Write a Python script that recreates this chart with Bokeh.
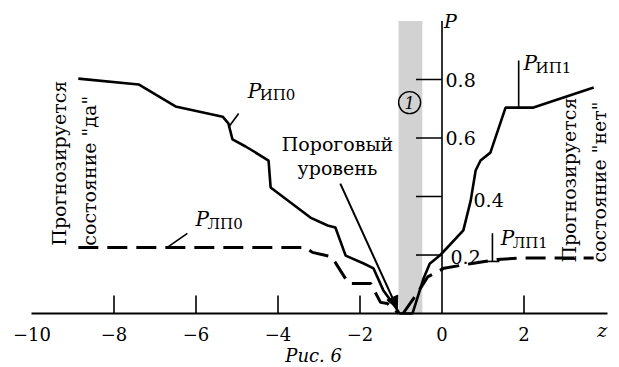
import numpy as np
from bokeh.plotting import figure
from bokeh.models import Range1d, FixedTicker, Arrow, NormalHead
from bokeh.core.properties import value
from bokeh.embed import file_html
from bokeh.resources import INLINE

# ---------------- data ----------------
Z_IP0 = [-8.87, -7.40, -6.50, -5.35, -5.21, -5.11, -4.79, -4.23, -4.18, -3.21, -2.79,
         -2.60, -2.35, -1.91, -1.67, -1.43, -1.13, -1.04]
P_IP0 = [0.803, 0.783, 0.708, 0.673, 0.650, 0.595, 0.571, 0.523, 0.431, 0.328, 0.301,
         0.294, 0.198, 0.171, 0.154, 0.079, 0.021, 0.0]
Z_LP0 = [-8.87, -3.33, -3.16, -2.72, -2.60, -2.28, -1.74, -1.50, -1.33, -1.06]
P_LP0 = [0.226, 0.226, 0.209, 0.195, 0.174, 0.103, 0.103, 0.038, 0.034, 0.0]
Z_IP1 = [-1.04, -0.72, -0.45, -0.30, -0.04, 0.52, 0.70, 0.82, 0.94, 1.18, 1.55, 2.23, 3.70]
P_IP1 = [0.0, 0.0, 0.12, 0.17, 0.20, 0.284, 0.386, 0.489, 0.523, 0.550, 0.704, 0.704, 0.773]
Z_LP1 = [-0.95, -0.60, -0.35, 0.05, 0.77, 1.35, 2.00, 3.70]
P_LP1 = [0.0, 0.07, 0.125, 0.155, 0.172, 0.185, 0.19, 0.19]

XTICKS = [-10, -8, -6, -4, -2, 0, 2]
XTICK_LABELS = ["\u221210", "\u22128", "\u22126", "\u22124", "\u22122", "0", "2"]
YTICKS = [0.2, 0.4, 0.6, 0.8]
YTICK_LABELS = ["0.2", "0.4", "0.6", "0.8"]

BAND_LEFT, BAND_RIGHT, BAND_TOP = -1.06, -0.48, 1.0

# ---------------- layout constants ----------------
X_MIN, X_MAX = -10.768, 4.329
X_AXIS_START, X_AXIS_END = -10.0, 4.04
Y_MIN, Y_MAX = -0.1846, 1.0701
Y_AXIS_TOP = 1.0
YLABEL_DX = [8.5, 31.5, 3.5, 3.5]
YLABEL_DY = [2, 3, 0, 0]
FONT_NAME = "DejaVu Serif"
FONT = value(FONT_NAME)
TXT = dict(text_font=FONT, text_color="black", text_baseline="middle")

p = figure(width=619, height=367, output_backend="svg", toolbar_location=None,
           x_range=Range1d(X_MIN, X_MAX), y_range=Range1d(Y_MIN, Y_MAX),
           y_axis_location=None, min_border=0)
p.outline_line_color = None
p.grid.grid_line_color = None
p.background_fill_color = "white"

xa = p.xaxis[0]
xa.fixed_location = 0
xa.bounds = (X_AXIS_START, X_AXIS_END)
xa.ticker = FixedTicker(ticks=XTICKS)
xa.major_label_overrides = {t: l for t, l in zip(XTICKS, XTICK_LABELS)}
xa.major_tick_line_color = None
xa.minor_tick_line_color = None
xa.axis_line_width = 2
xa.axis_line_color = "black"
xa.major_label_standoff = 7
xa.major_label_text_font = FONT_NAME
xa.major_label_text_font_size = "18px"
xa.major_label_text_color = "black"

p.quad(left=[BAND_LEFT], right=[BAND_RIGHT], bottom=[0], top=[BAND_TOP],
       fill_color="#d2d2d2", line_color=None)

xmarks = [t for t in XTICKS if t not in (XTICKS[0], 0)]
p.ray(x=xmarks, y=[0] * len(xmarks), length=18, length_units="screen",
      angle=np.pi / 2, line_color="black", line_width=1.6)

p.segment(x0=[0], y0=[0], x1=[0], y1=[Y_AXIS_TOP], line_color="black", line_width=1.6)
p.ray(x=[0] * len(YTICKS), y=YTICKS, length=26, length_units="screen",
      angle=np.pi, line_color="black", line_width=1.6)
p.text(x=[0] * len(YTICKS), y=YTICKS, text=YTICK_LABELS, x_offset=YLABEL_DX, y_offset=YLABEL_DY,
       text_font_size="19px", text_align="left", **TXT)
p.text(x=[0], y=[Y_AXIS_TOP], text=["P"], x_offset=2, y_offset=0,
       text_font_size="19px", text_font_style="italic", text_align="left", **TXT)

p.line(Z_IP0, P_IP0, line_color="black", line_width=2.6)
p.line(Z_IP1, P_IP1, line_color="black", line_width=2.6)
p.line(Z_LP0, P_LP0, line_color="black", line_width=3, line_dash="20 9")
p.line(Z_LP1, P_LP1, line_color="black", line_width=3, line_dash="20 9")

p.segment(x0=[-5.21, -6.70, 1.87, 1.23, 1.06], y0=[0.636, 0.226, 0.865, 0.274, 0.178],
          x1=[-4.96, -6.21, 1.87, 1.23, 1.40], y1=[0.684, 0.274, 0.704, 0.178, 0.178],
          line_color="black", line_width=1.6)

LBL_X = [-4.74, -6.01, 1.99, 1.43]
LBL_Y = [0.762, 0.323, 0.856, 0.258]
p.text(x=LBL_X, y=LBL_Y, text=["P"] * 4, text_font_size="20px", text_font_style="italic",
       text_align="left", **TXT)
p.text(x=LBL_X, y=LBL_Y,
       text=["\u0418\u041f0", "\u041b\u041f0", "\u0418\u041f1", "\u041b\u041f1"],
       x_offset=12, y_offset=4.5, text_font_size="15px", text_align="left", **TXT)

p.text(x=[-2.55, -2.55], y=[0.580, 0.498], text=["Пороговый", "уровень"],
       text_font_size="19px", text_align="center", **TXT)
p.add_layout(Arrow(end=NormalHead(size=12, fill_color="black", line_color="black"),
                   x_start=-2.48, y_start=0.444, x_end=-1.09, y_end=0.017,
                   line_color="black", line_width=2))

p.scatter(x=[-0.79], y=[0.721], size=22, marker="circle", fill_color=None,
          line_color="black", line_width=1.4)
p.text(x=[-0.79], y=[0.721], text=["1"], text_font_size="16px",
       text_font_style="italic", text_align="center", **TXT)

p.text(x=[-9.35, -8.62], y=[0.232, 0.232], text=["Прогнозируется", "состояние \"да\""],
       angle=np.pi / 2, text_font_size="19px", text_align="left", **TXT)
p.text(x=[3.09, 3.82], y=[0.174, 0.174], text=["Прогнозируется", "состояние \"нет\""],
       angle=np.pi / 2, text_font_size="19px", text_align="left", **TXT)

p.text(x=[3.91], y=[-0.057], text=["z"], text_font_size="19px",
       text_font_style="italic", text_align="center", **TXT)
p.text(x=[-3.13], y=[-0.1436], text=["Рис. 6"], text_font_size="18px",
       text_font_style="italic", text_align="center", **TXT)

open("out.html", "w").write(file_html(p, INLINE))
